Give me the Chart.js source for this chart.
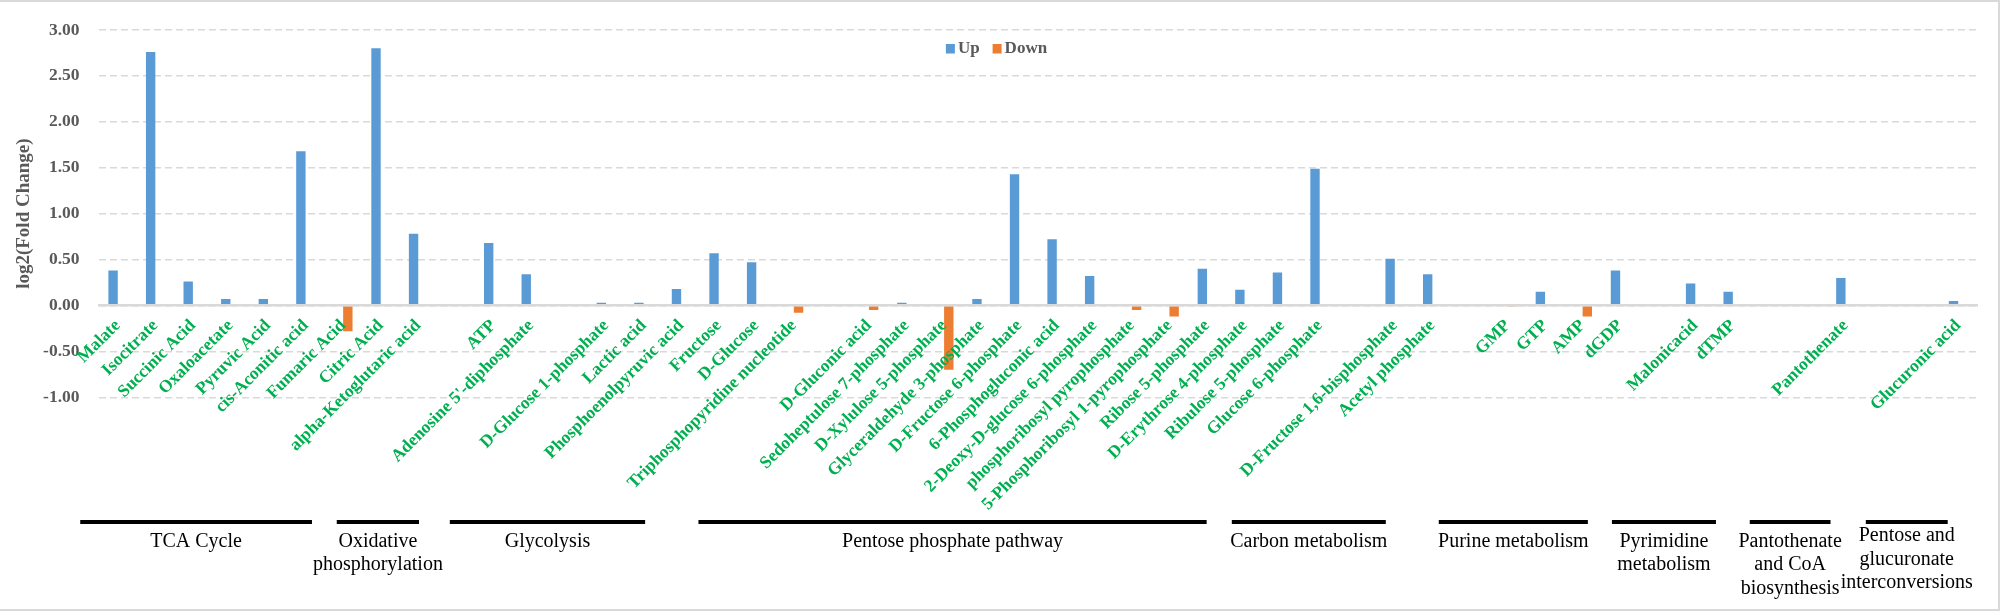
<!DOCTYPE html>
<html>
<head>
<meta charset="utf-8">
<script src="https://cdn.jsdelivr.net/npm/chart.js@4.4.1/dist/chart.umd.min.js"></script>
<style>
  html, body { margin: 0; padding: 0; background: #fff; }
  #wrap { width: 2008px; height: 612px; }
</style>
</head>
<body>
<div id="wrap"><canvas id="chart" width="2008" height="612"></canvas></div>
<script>
// metabolites, empty strings are spacer slots between pathways
var metabolites = [
  "Malate", "Isocitrate", "Succinic Acid", "Oxaloacetate", "Pyruvic Acid",
  "cis-Aconitic acid", "Fumaric Acid", "Citric Acid", "alpha-Ketoglutaric acid", "",
  "ATP", "Adenosine 5'-diphosphate", "", "D-Glucose 1-phosphate", "Lactic acid",
  "Phosphoenolpyruvic acid", "Fructose", "D-Glucose", "Triphosphopyridine nucleotide", "",
  "D-Gluconic acid", "Sedoheptulose 7-phosphate", "D-Xylulose 5-phosphate", "Glyceraldehyde 3-phosphate", "D-Fructose 6-phosphate",
  "6-Phosphogluconic acid", "2-Deoxy-D-glucose 6-phosphate", "phosphoribosyl pyrophosphate", "5-Phosphoribosyl 1-pyrophosphate", "Ribose 5-phosphate",
  "D-Erythrose 4-phosphate", "Ribulose 5-phosphate", "Glucose 6-phosphate", "", "D-Fructose 1,6-bisphosphate",
  "Acetyl phosphate", "", "GMP", "GTP", "AMP",
  "dGDP", "", "Malonicacid", "dTMP", "",
  "", "Pantothenate", "", "", "Glucuronic acid"
];

var upValues = [
  0.38, 2.76, 0.26, 0.07, 0.07, 1.68, null, 2.80, 0.78, null,
  0.68, 0.34, null, 0.03, 0.03, 0.18, 0.57, 0.47, null, null,
  null, 0.03, null, 0.07, 1.43, 0.72, 0.32, null, null, 0.40,
  0.17, 0.36, 1.49, null, 0.51, 0.34, null, null, 0.15, null,
  0.38, null, 0.24, 0.15, null, null, 0.30, null, null, 0.05
];

var downValues = [
  null, null, null, null, null, null, -0.28, null, null, null,
  null, null, null, null, null, null, null, null, -0.08, null,
  -0.05, null, -0.70, null, null, null, null, -0.05, -0.12, null,
  null, null, null, null, null, null, null, -0.01, null, -0.12,
  null, null, null, null, null, null, null, null, null, null
];

var yMin = -1, yMax = 3, yStep = 0.5;

// pathway brackets under the axis, spans in category units
var groupNames = [
  ["TCA Cycle"], ["Oxidative", "phosphorylation"], ["Glycolysis"], ["Pentose phosphate pathway"],
  ["Carbon metabolism"], ["Purine metabolism"], ["Pyrimidine", "metabolism"],
  ["Pantothenate", "and CoA", "biosynthesis"], ["Pentose and", "glucuronate", "interconversions"]
];
var groupFrom = [-1.0, 5.83, 8.84, 15.46, 29.66, 35.17, 39.78, 43.45, 46.54];
var groupTo   = [5.17, 8.02, 14.04, 28.99, 33.76, 39.14, 42.55, 45.6, 48.72];

var serif = "'Liberation Serif', 'Times New Roman', serif";
var gray = "#595959";

var extras = {
  id: "extras",
  afterDraw: function(chart) {
    var ctx = chart.ctx;
    var x = chart.scales.x;
    ctx.save();

    // legend inside the plot
    ctx.font = "bold 17px " + serif;
    ctx.textBaseline = "middle";
    var sets = chart.data.datasets;
    var total = 0;
    sets.forEach(function(d, i) {
      total += 12 + ctx.measureText(d.label).width + (i ? 13 : 0);
    });
    var lx = 996.5 - total / 2;
    sets.forEach(function(d, i) {
      if (i) lx += 13;
      ctx.fillStyle = d.backgroundColor;
      ctx.fillRect(lx, 44, 9, 9.5);
      ctx.fillStyle = gray;
      ctx.textAlign = "left";
      ctx.fillText(d.label, lx + 12, 49);
      lx += 12 + ctx.measureText(d.label).width;
    });

    // pathway brackets
    ctx.strokeStyle = "#000";
    ctx.lineWidth = 4;
    ctx.fillStyle = "#000";
    ctx.font = "20px " + serif;
    ctx.textAlign = "center";
    groupNames.forEach(function(lines, i) {
      var x1 = x.getPixelForValue(groupFrom[i]);
      var x2 = x.getPixelForValue(groupTo[i]);
      ctx.beginPath();
      ctx.moveTo(x1, 522);
      ctx.lineTo(x2, 522);
      ctx.stroke();
      var top = i === groupNames.length - 1 ? 536 : 541.5;
      lines.forEach(function(t, k) {
        ctx.fillText(t, (x1 + x2) / 2, top + k * 23.5);
      });
    });

    // chart frame
    ctx.strokeStyle = "#D9D9D9";
    ctx.lineWidth = 2;
    ctx.strokeRect(-1, 1, 2000, 609);
    ctx.restore();
  }
};

new Chart(document.getElementById("chart"), {
  type: "bar",
  data: {
    labels: metabolites,
    datasets: [
      { label: "Up", data: upValues, backgroundColor: "#5B9BD5", categoryPercentage: 0.5, barPercentage: 1.0 },
      { label: "Down", data: downValues, backgroundColor: "#ED7D31", categoryPercentage: 0.5, barPercentage: 1.0 }
    ]
  },
  options: {
    responsive: false,
    animation: false,
    devicePixelRatio: 1,
    layout: { padding: { left: 0, right: 31, top: 15, bottom: 214.7 } },
    plugins: {
      legend: { display: false },
      tooltip: { enabled: false }
    },
    scales: {
      x: {
        position: { y: 0 },
        grid: { display: false, drawTicks: false },
        border: { display: true, color: "#D9D9D9", width: 2.5, z: 1 },
        ticks: {
          z: 1,
          autoSkip: false,
          minRotation: 45,
          maxRotation: 45,
          padding: 10,
          color: "#00B050",
          font: { family: serif, size: 17.5, weight: "bold" }
        },
        afterFit: function(s) { s.height = 0; }
      },
      y: {
        min: yMin,
        max: yMax,
        grid: { color: "#D9D9D9", lineWidth: 1.5, drawTicks: false },
        border: { display: false, dash: [7, 4] },
        ticks: {
          stepSize: yStep,
          padding: 19.5,
          color: gray,
          font: { family: serif, size: 17.5, weight: "bold" },
          callback: function(v) { return v.toFixed(2); }
        },
        title: {
          display: true,
          text: "log2(Fold Change)",
          color: gray,
          padding: { top: 13, bottom: 0 },
          font: { family: serif, size: 19, weight: "bold" }
        },
        afterFit: function(s) { s.width = 99; }
      }
    }
  },
  plugins: [extras]
});
</script>
</body>
</html>
